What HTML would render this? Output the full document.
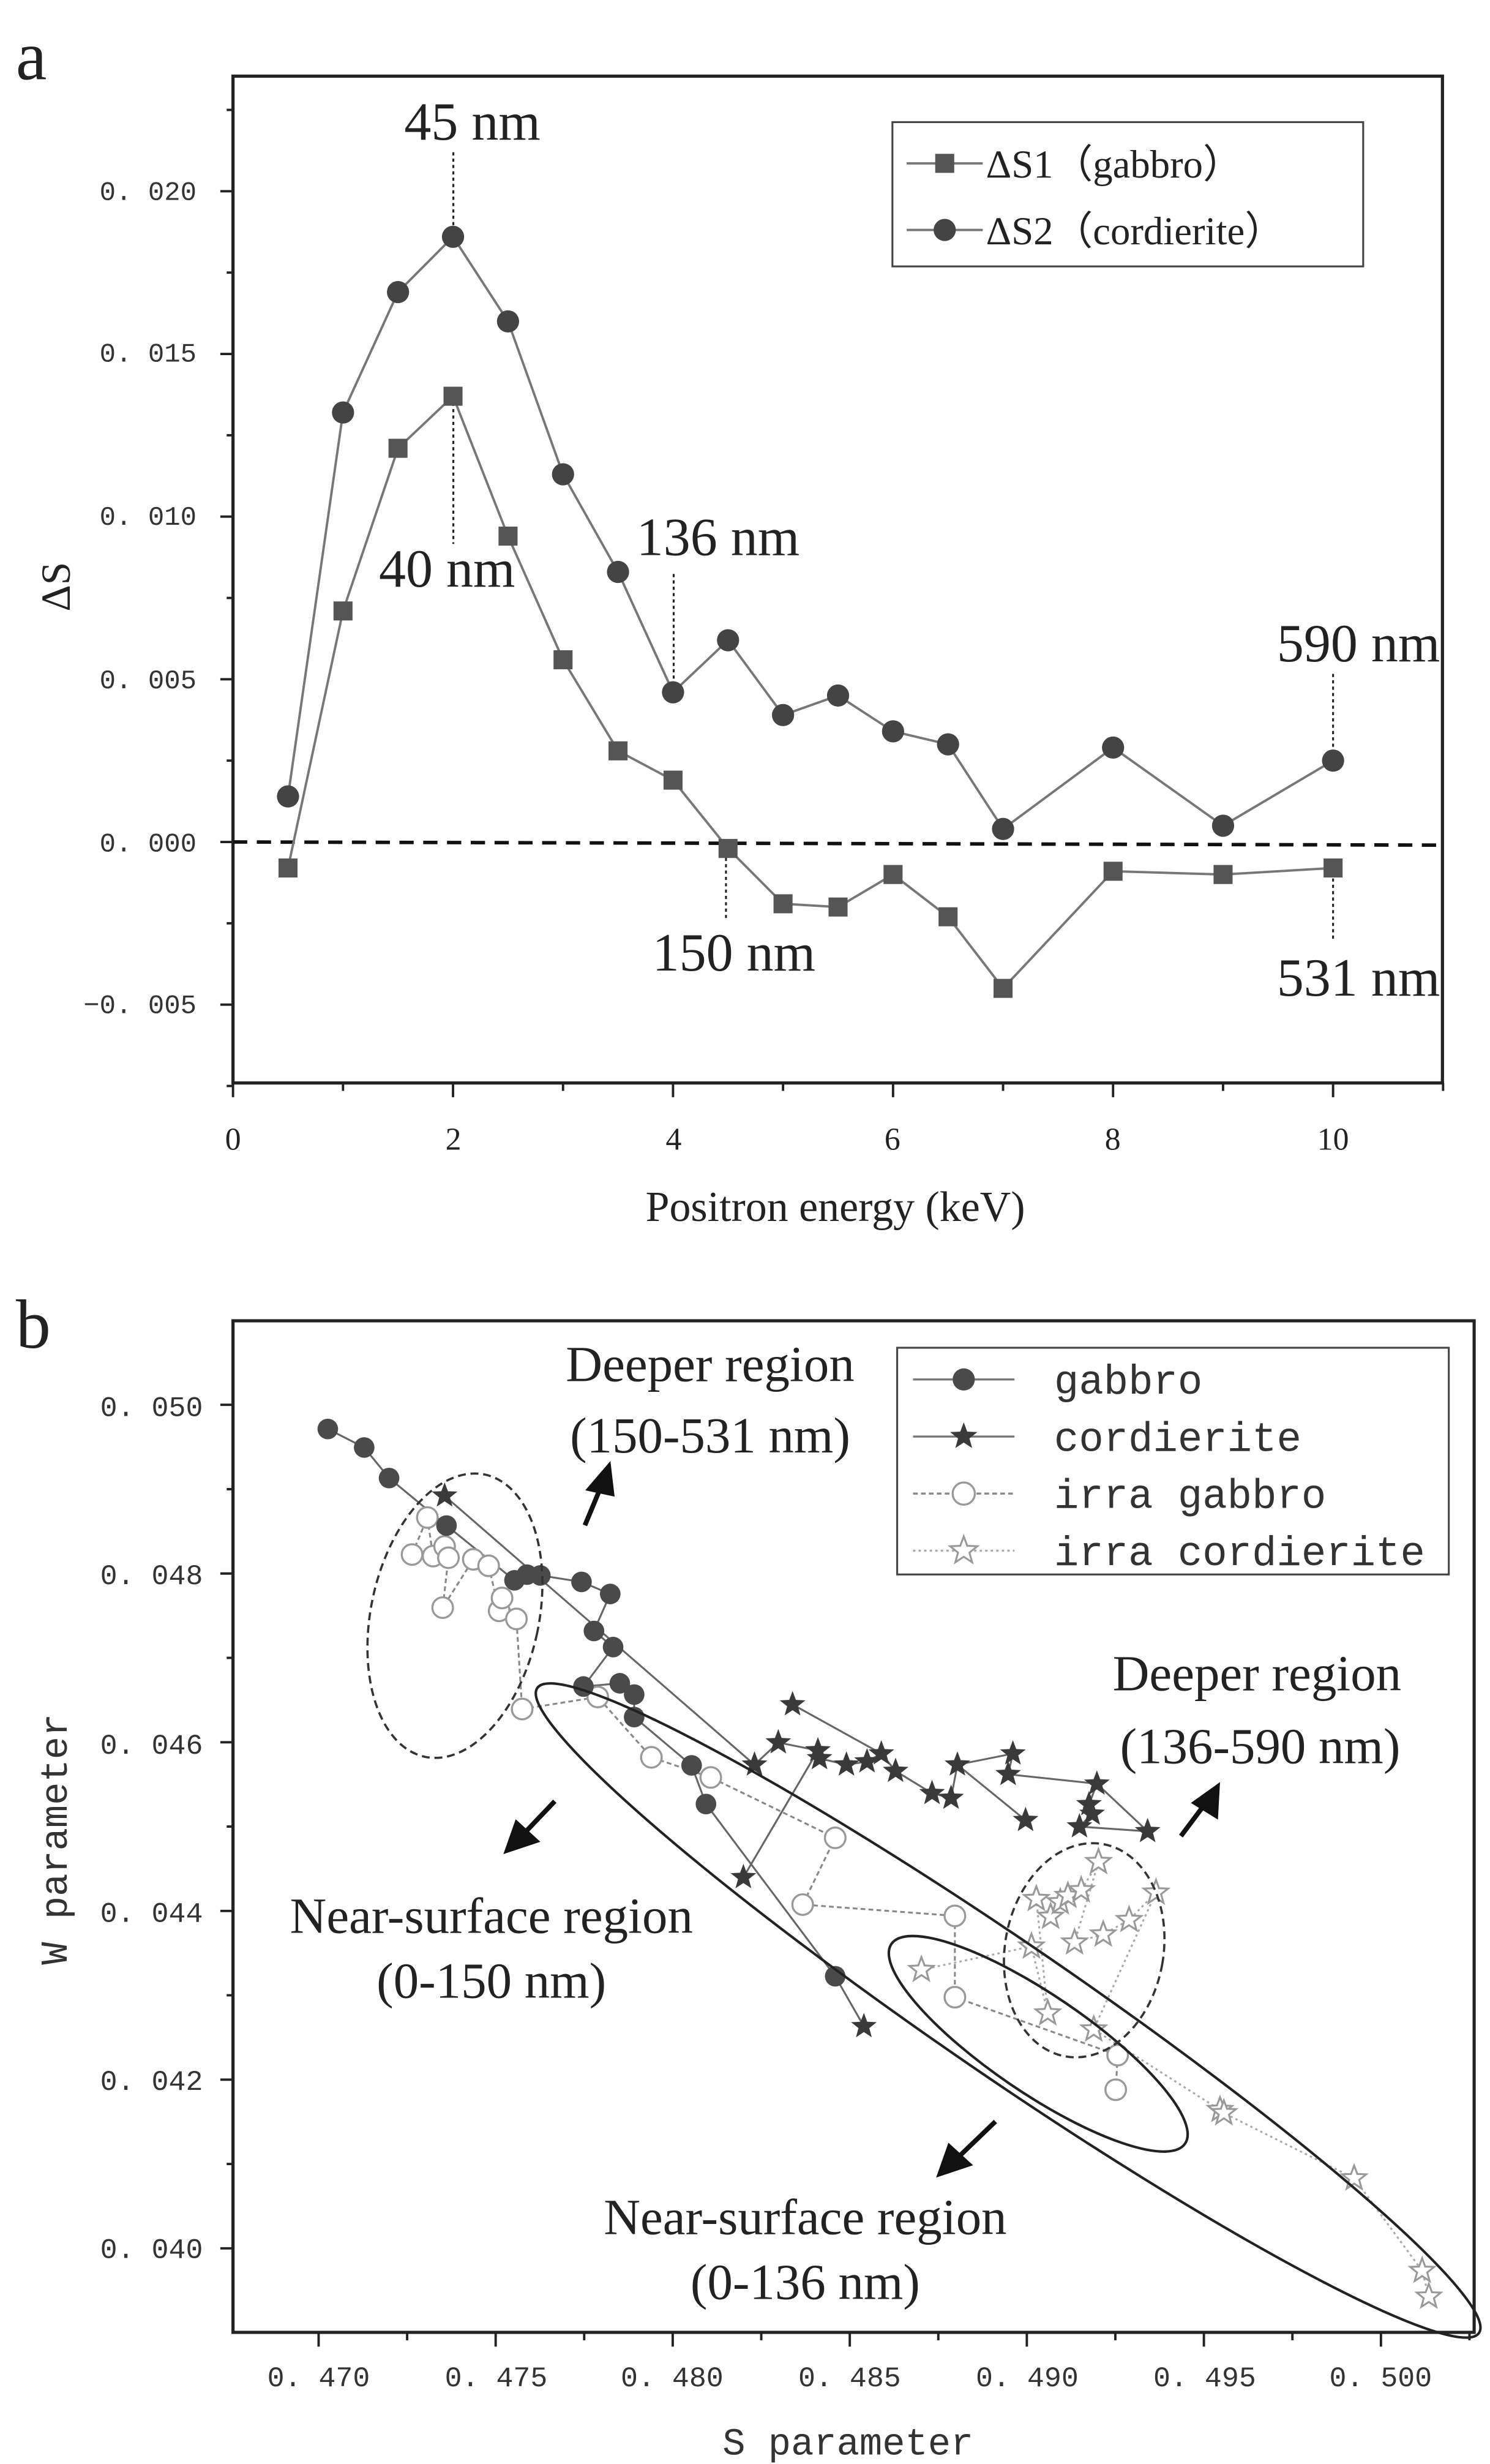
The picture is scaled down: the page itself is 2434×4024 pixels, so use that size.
<!DOCTYPE html>
<html><head><meta charset="utf-8"><style>
html,body{margin:0;padding:0;background:#fff}
svg{display:block}
.ser{font-family:"Liberation Serif",serif;fill:#222}
.mono{font-family:"Liberation Mono",monospace;fill:#333}
</style></head><body>
<svg id="s" width="2434" height="4024" viewBox="0 0 940 1554" xmlns="http://www.w3.org/2000/svg">
<rect width="940" height="1554" fill="#fff"/>
<!-- Panel a -->
<text class="ser" x="10" y="50" font-size="44">a</text>
<rect x="147" y="48" width="763" height="635" fill="none" stroke="#222" stroke-width="2"/>
<g id="ticksA" stroke="#222" stroke-width="1.5"></g>
<g class="mono" font-size="17" text-anchor="end">
<text x="124" y="126">0. 020</text><text x="124" y="228">0. 015</text><text x="124" y="331">0. 010</text>
<text x="124" y="434">0. 005</text><text x="124" y="537">0. 000</text><text x="124" y="639">−0. 005</text>
</g>
<g class="ser" font-size="20" text-anchor="middle">
<text x="147" y="725">0</text><text x="286" y="725">2</text><text x="425" y="725">4</text>
<text x="563" y="725">6</text><text x="702" y="725">8</text><text x="841" y="725">10</text>
</g>
<text class="ser" x="527" y="770" font-size="27" text-anchor="middle">Positron energy (keV)</text>
<text class="ser" transform="translate(44,370) rotate(-90)" font-size="26" text-anchor="middle">ΔS</text>
<line x1="147" y1="531" x2="910" y2="533" stroke="#111" stroke-width="2.2" stroke-dasharray="9,6"/>
<g stroke="#222" stroke-width="1.2" stroke-dasharray="2,2">
<line x1="286" y1="96" x2="286" y2="145"/><line x1="286" y1="250" x2="286" y2="343"/>
<line x1="425" y1="362" x2="425" y2="430"/><line x1="841" y1="425" x2="841" y2="472"/>
<line x1="458" y1="533" x2="458" y2="580"/><line x1="841" y1="550" x2="841" y2="592"/>
</g>
<g class="ser" font-size="34" text-anchor="middle">
<text x="298" y="88">45 nm</text><text x="282" y="370">40 nm</text><text x="453" y="350">136 nm</text>
<text x="857" y="417">590 nm</text><text x="463" y="612">150 nm</text><text x="857" y="628">531 nm</text>
</g>
<rect x="563" y="77" width="297" height="91" fill="#fff" stroke="#444" stroke-width="1.2"/>
<line x1="572" y1="103" x2="620" y2="103" stroke="#777" stroke-width="1.5"/>
<rect x="590" y="97" width="12" height="12" fill="#555"/>
<line x1="572" y1="145" x2="620" y2="145" stroke="#777" stroke-width="1.5"/>
<circle cx="596" cy="145" r="7" fill="#444"/>
<g class="ser" font-size="25"><text x="622" y="112">ΔS1（gabbro）</text><text x="622" y="154">ΔS2（cordierite）</text></g>
<g id="dataA"></g>

<!-- Panel b -->
<text class="ser" x="10" y="850" font-size="44">b</text>
<rect x="147" y="833" width="783" height="638" fill="none" stroke="#222" stroke-width="2"/>
<g id="ticksB" stroke="#222" stroke-width="1.5"></g>
<g class="mono" font-size="18" text-anchor="end">
<text x="128" y="893">0. 050</text><text x="128" y="999">0. 048</text><text x="128" y="1106">0. 046</text>
<text x="128" y="1212">0. 044</text><text x="128" y="1318">0. 042</text><text x="128" y="1424">0. 040</text>
</g>
<g class="mono" font-size="18" text-anchor="middle">
<text x="201" y="1505">0. 470</text><text x="313" y="1505">0. 475</text><text x="424" y="1505">0. 480</text>
<text x="536" y="1505">0. 485</text><text x="648" y="1505">0. 490</text><text x="760" y="1505">0. 495</text><text x="871" y="1505">0. 500</text>
</g>
<text class="mono" x="535" y="1548" font-size="24" text-anchor="middle">S parameter</text>
<text class="mono" transform="translate(42,1160) rotate(-90)" font-size="24" text-anchor="middle">W parameter</text>
<g id="dataB"></g>
<g fill="none" stroke="#222" stroke-width="1.6">
<ellipse cx="636" cy="1268" rx="360" ry="42" transform="rotate(34.4 636 1268)"/>
<ellipse cx="655" cy="1289" rx="112" ry="31" transform="rotate(34.2 655 1289)"/>
</g>
<g fill="none" stroke="#333" stroke-width="1.4" stroke-dasharray="5,3">
<ellipse cx="287" cy="1019" rx="53" ry="91" transform="rotate(12 287 1019)"/>
<ellipse cx="684" cy="1230" rx="50" ry="68" transform="rotate(10 684 1230)"/>
</g>
<g stroke="#111" stroke-width="3" fill="#111">
<line x1="369" y1="962" x2="379" y2="938"/><polygon points="384,925 372,939 386,942"/>
<line x1="350" y1="1136" x2="330" y2="1157"/><polygon points="320,1167 326,1150 338,1161"/>
<line x1="745" y1="1158" x2="760" y2="1138"/><polygon points="768,1127 754,1137 767,1145"/>
<line x1="628" y1="1338" x2="603" y2="1362"/><polygon points="593,1371 599,1354 611,1365"/>
</g>
<g class="ser" font-size="32" text-anchor="middle">
<text x="448" y="871">Deeper region</text><text x="448" y="916">(150-531 nm)</text>
<text x="793" y="1066">Deeper region</text><text x="795" y="1112">(136-590 nm)</text>
<text x="310" y="1219">Near-surface region</text><text x="310" y="1260">(0-150 nm)</text>
<text x="508" y="1409">Near-surface region</text><text x="508" y="1450">(0-136 nm)</text>
</g>
<rect x="566" y="850" width="348" height="143" fill="#fff" stroke="#444" stroke-width="1.2"/>
<g id="legB"></g>
<g class="mono" font-size="26"><text x="665" y="879">gabbro</text><text x="665" y="915">cordierite</text><text x="665" y="951">irra gabbro</text><text x="665" y="987">irra cordierite</text></g>
</svg>
<script>
var NS="http://www.w3.org/2000/svg";
function el(p,t,a){var e=document.createElementNS(NS,t);for(var k in a)e.setAttribute(k,a[k]);p.appendChild(e);return e;}
function star(cx,cy,r){var p=[];for(var i=0;i<10;i++){var rr=i%2?r*0.42:r;var a=-Math.PI/2+i*Math.PI/5;p.push((cx+rr*Math.cos(a)).toFixed(1)+","+(cy+rr*Math.sin(a)).toFixed(1));}return p.join(" ");}
// Panel a
var tA=document.getElementById("ticksA");
function ya(v){return 531-v/0.005*102.6;}
function xa(e){return 147+e*69.4;}
for(var v=-0.0075;v<=0.02251;v+=0.0025){var y=ya(v);var maj=Math.abs(Math.round(v/0.005)*0.005-v)<1e-6;el(tA,"line",{x1:147,y1:y,x2:maj?139:143,y2:y});}
for(var e=0;e<=11;e++){var x=xa(e);el(tA,"line",{x1:x,y1:683,x2:x,y2:e%2?688:692});}
var s1=[[0.5,-0.0008],[1,0.0071],[1.5,0.0121],[2,0.0137],[2.5,0.0094],[3,0.0056],[3.5,0.0028],[4,0.0019],[4.5,-0.0002],[5,-0.0019],[5.5,-0.0020],[6,-0.0010],[6.5,-0.0023],[7,-0.0045],[8,-0.0009],[9,-0.0010],[10,-0.0008]];
var s2=[[0.5,0.0014],[1,0.0132],[1.5,0.0169],[2,0.0186],[2.5,0.0160],[3,0.0113],[3.5,0.0083],[4,0.0046],[4.5,0.0062],[5,0.0039],[5.5,0.0045],[6,0.0034],[6.5,0.0030],[7,0.0004],[8,0.0029],[9,0.0005],[10,0.0025]];
var dA=document.getElementById("dataA");
[s1,s2].forEach(function(s,k){el(dA,"polyline",{points:s.map(function(p){return xa(p[0])+","+ya(p[1]);}).join(" "),fill:"none",stroke:"#777","stroke-width":1.5});
s.forEach(function(p){var x=xa(p[0]),y=ya(p[1]);if(k==0)el(dA,"rect",{x:x-6,y:y-6,width:12,height:12,fill:"#555"});else el(dA,"circle",{cx:x,cy:y,r:7,fill:"#444"});});});
// Panel b
var tB=document.getElementById("ticksB");
function yb(w){return 886+(0.050-w)/0.002*106.4;}
function xb(s){return 201+(s-0.470)/0.005*111.7;}
for(var i=0;i<=11;i++){var w=0.039+i*0.001;var y=yb(w);if(y<835||y>1470)continue;el(tB,"line",{x1:147,y1:y,x2:i%2?139:143,y2:y});}
for(var i=0;i<=13;i++){var s=0.470+i*0.0025;var x=xb(s);if(x>928)continue;el(tB,"line",{x1:x,y1:1471,x2:x,y2:i%2?1476:1480});}
function Z(p){return [147+(p[0]-241)*0.604,886+(p[1]-222)*0.5076];}
var g=[[340,252],[378,275],[404,313],[464,372],[535,440],[548,433],[562,434],[605,442],[635,457],[618,503],[638,523],[607,572],[645,568],[660,582],[660,610],[720,670],[735,718],[870,932]].map(Z);
g.push([545,1278]);
var ig=[[428,408],[444,362],[450,410],[462,398],[466,412],[460,474],[492,414],[508,422],[519,478],[522,462],[537,488],[543,600],[622,585],[678,660],[740,685],[870,760],[836,843],[995,857],[995,958],[1165,1030],[1163,1073]].map(Z);
var ic=[[960,924],[1075,895],[1092,978],[1080,836],[1095,858],[1105,840],[1113,832],[1127,825],[1145,790],[1120,890],[1150,880],[1177,862],[1205,828],[1140,998],[1272,1098],[1276,1102],[1412,1183],[1483,1298],[1490,1330]].map(Z);
var TOP=Z([462,335]);
var S={A:[500,1075],B:[491,1099],C:[476,1113],D:[516,1104],E:[517,1109],F:[534,1113],G:[547,1111],H:[556,1106],I:[565,1117],J:[588,1131],K:[600,1134],L:[604,1113],M:[639,1106],N:[636,1119],O:[647,1148],P:[692,1125],Q:[687,1138],R:[689,1144],S:[681,1152],T:[724,1155],U:[469,1184],V:[545,1278]};
var cseg=[[TOP,S.C],[S.C,S.B],[S.B,S.D],[S.D,S.U],[S.A,S.H],[S.E,S.F,S.G,S.H,S.I,S.J,S.K],[S.K,S.L,S.M,S.N],[S.L,S.O],[S.N,S.P],[S.P,S.Q,S.R,S.S],[S.P,S.T],[S.S,S.T]];
var dB=document.getElementById("dataB");
function pl(a,st,da){var o={points:a.map(function(p){return p[0].toFixed(1)+","+p[1].toFixed(1);}).join(" "),fill:"none",stroke:st,"stroke-width":1.2};if(da)o["stroke-dasharray"]=da;el(dB,"polyline",o);}
pl(ig,"#888","3,2");pl(ic,"#aaa","1.5,2");pl(g,"#666");
cseg.forEach(function(sg){pl(sg,"#666");});
ig.forEach(function(p){el(dB,"circle",{cx:p[0],cy:p[1],r:6.5,fill:"#fff",stroke:"#999","stroke-width":1.3});});
ic.forEach(function(p){el(dB,"polygon",{points:star(p[0],p[1],8),fill:"#fff",stroke:"#999","stroke-width":1.2});});
g.slice(0,g.length-1).forEach(function(p){el(dB,"circle",{cx:p[0],cy:p[1],r:6.5,fill:"#4a4a4a"});});
var cs=[TOP];for(var k in S)cs.push(S[k]);
cs.forEach(function(p){el(dB,"polygon",{points:star(p[0],p[1],8.5),fill:"#3a3a3a"});});
var L=document.getElementById("legB");
el(L,"line",{x1:576,y1:870,x2:640,y2:870,stroke:"#777","stroke-width":1.3});el(L,"circle",{cx:608,cy:870,r:7,fill:"#4a4a4a"});
el(L,"line",{x1:576,y1:906,x2:640,y2:906,stroke:"#777","stroke-width":1.3});el(L,"polygon",{points:star(608,906,9),fill:"#3a3a3a"});
el(L,"line",{x1:576,y1:942,x2:640,y2:942,stroke:"#888","stroke-width":1.3,"stroke-dasharray":"3,2"});el(L,"circle",{cx:608,cy:942,r:7,fill:"#fff",stroke:"#999","stroke-width":1.3});
el(L,"line",{x1:576,y1:978,x2:640,y2:978,stroke:"#aaa","stroke-width":1.3,"stroke-dasharray":"1.5,2"});el(L,"polygon",{points:star(608,978,9),fill:"#fff",stroke:"#999","stroke-width":1.2});
</script>
</body></html>
